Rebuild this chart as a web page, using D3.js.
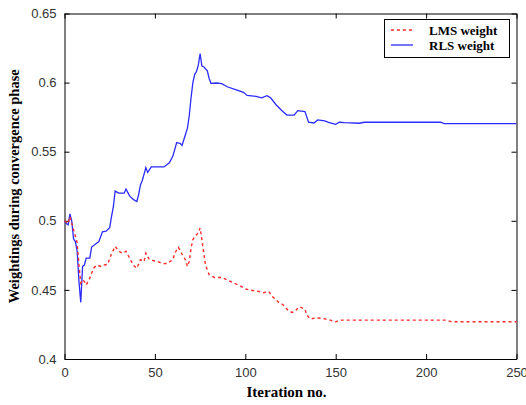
<!DOCTYPE html>
<html>
<head>
<meta charset="utf-8">
<script src="https://cdn.jsdelivr.net/npm/d3@7"></script>
<style>
  body { margin: 0; background: #fff; }
  svg { display: block; }
</style>
</head>
<body>
<svg id="chart" width="526" height="405"></svg>
<script>
// RLS weight (iteration, weight)
const rlsIter = [0, 1, 2, 3, 4, 5, 6, 7, 8, 9, 10, 11, 12, 14, 15, 17, 19, 21, 23, 25, 26, 27, 28, 30, 33, 34, 36, 38, 40,
  41, 42, 43, 45, 46, 48, 51, 55, 58, 60, 62, 64, 65, 67, 68, 69, 70, 71, 72, 73, 74, 75, 76, 77, 79, 80, 81, 84, 87, 90,
  95, 99, 101, 106, 109, 112, 114, 117, 120, 123, 127, 129, 133, 135, 138, 140, 144, 146, 150, 152, 155, 163, 166, 208, 210, 250];
const rlsVal = [0.500, 0.498, 0.497, 0.505, 0.500, 0.487, 0.485, 0.478, 0.456, 0.441, 0.467, 0.468, 0.473, 0.473, 0.481,
  0.483, 0.485, 0.492, 0.4925, 0.495, 0.503, 0.510, 0.5215, 0.520, 0.520, 0.523, 0.518, 0.5155, 0.514,
  0.519, 0.526, 0.529, 0.5385, 0.535, 0.539, 0.539, 0.539, 0.542, 0.547, 0.5565, 0.556, 0.5545, 0.5628, 0.567, 0.576,
  0.589, 0.600, 0.606, 0.608, 0.6125, 0.621, 0.612, 0.6115, 0.6085, 0.603, 0.5995, 0.5997, 0.5992, 0.597,
  0.5948, 0.593, 0.5907, 0.590, 0.589, 0.5905, 0.589, 0.584, 0.580, 0.5765, 0.5765, 0.5797, 0.579, 0.5713, 0.5708,
  0.573, 0.5723, 0.5713, 0.5698, 0.5713, 0.571, 0.5706, 0.5713, 0.5713, 0.5703, 0.5703];

// LMS weight
const lmsIter = [0, 2, 3, 5, 6, 7, 8, 9, 10, 11, 12, 14, 16, 18, 20, 22, 24, 25, 28, 30, 32, 34, 36, 38, 40, 42, 44, 45,
  47, 51, 55, 57, 60, 61, 63, 65, 67, 68, 69, 70, 71, 73, 74, 75, 76, 77, 78, 80, 83, 87, 91, 94, 98, 100, 103, 107,
  110, 113, 115, 118, 121, 124, 126, 128, 130, 133, 134, 136, 139, 143, 147, 150, 152, 211, 214, 250];
const lmsVal = [0.500, 0.498, 0.503, 0.4935, 0.489, 0.484, 0.468, 0.455, 0.4575, 0.456, 0.4536, 0.4585, 0.4657, 0.468,
  0.467, 0.468, 0.4685, 0.473, 0.4815, 0.478, 0.4766, 0.478, 0.473, 0.468, 0.4657, 0.4718, 0.4706, 0.4766,
  0.4718, 0.4706, 0.469, 0.4692, 0.472, 0.4766, 0.4808, 0.4758, 0.4715, 0.467, 0.4706, 0.4803, 0.4864, 0.490, 0.4912,
  0.4948, 0.4864, 0.4766, 0.468, 0.461, 0.459, 0.459, 0.4565, 0.4548, 0.4524, 0.4507, 0.4498, 0.449,
  0.448, 0.4488, 0.4452, 0.4415, 0.4391, 0.4347, 0.4337, 0.4354, 0.4378, 0.4361, 0.4318, 0.4289, 0.4298, 0.4293,
  0.4281, 0.4269, 0.4281, 0.4281, 0.427, 0.427];

const xTicks = [0, 50, 100, 150, 200, 250];
const yTicks = [0.4, 0.45, 0.5, 0.55, 0.6, 0.65];
const legendLabels = ["LMS weight", "RLS weight"];

const margin = { left: 64.5, right: 9.5, top: 13.5, bottom: 46 };
const W = 526, H = 405;
const svg = d3.select("#chart");

const x = d3.scaleLinear().domain([0, 250]).range([margin.left, W - margin.right]);
const y = d3.scaleLinear().domain([0.4, 0.65]).range([H - margin.bottom, margin.top]);

const tickFont = "'Liberation Sans', Arial, sans-serif";
const serif = "'Liberation Serif', 'Times New Roman', serif";

// axes: ticks inward on all four sides
function styleAxis(g) {
  g.select(".domain").attr("stroke", "#000");
  g.selectAll(".tick line").attr("stroke", "#000");
  g.selectAll(".tick text").attr("fill", "#333").style("font-family", tickFont).style("font-size", "13px");
}
svg.append("g").attr("transform", `translate(0,${y(0.4)})`)
  .call(d3.axisBottom(x).tickValues(xTicks).tickSizeInner(-5).tickSizeOuter(0).tickPadding(9).tickFormat(d3.format("d")))
  .call(styleAxis);
svg.append("g").attr("transform", `translate(0,${y(0.65)})`)
  .call(d3.axisTop(x).tickValues(xTicks).tickSizeInner(-5).tickSizeOuter(0).tickFormat(""))
  .call(styleAxis);
svg.append("g").attr("transform", `translate(${x(0)},0)`)
  .call(d3.axisLeft(y).tickValues(yTicks).tickSizeInner(-5).tickSizeOuter(0).tickPadding(8).tickFormat(d => d3.format("")(+d.toFixed(2))))
  .call(styleAxis);
svg.append("g").attr("transform", `translate(${x(250)},0)`)
  .call(d3.axisRight(y).tickValues(yTicks).tickSizeInner(-5).tickSizeOuter(0).tickFormat(""))
  .call(styleAxis);

const line = d3.line().x(d => x(d[0])).y(d => y(d[1]));

svg.append("path")
  .datum(d3.zip(rlsIter, rlsVal))
  .attr("d", line)
  .attr("fill", "none")
  .attr("stroke", "#2b2bff")
  .attr("stroke-width", 1.3);

svg.append("path")
  .datum(d3.zip(lmsIter, lmsVal))
  .attr("d", line)
  .attr("fill", "none")
  .attr("stroke", "#ff2b2b")
  .attr("stroke-width", 1.4)
  .attr("stroke-dasharray", "3,3");

// legend
const lg = svg.append("g");
lg.append("rect")
  .attr("x", 384.5).attr("y", 19.5).attr("width", 125).attr("height", 38)
  .attr("fill", "#fff").attr("stroke", "#000");
legendLabels.forEach((t, i) => {
  const ly = 30 + i * 15;
  lg.append("line")
    .attr("x1", 391).attr("x2", 413).attr("y1", ly).attr("y2", ly)
    .attr("stroke", i === 0 ? "#ff2b2b" : "#2b2bff")
    .attr("stroke-width", i === 0 ? 1.4 : 1.3)
    .attr("stroke-dasharray", i === 0 ? "3,3" : null);
  lg.append("text")
    .attr("x", 429).attr("y", ly + 4.5)
    .style("font-family", serif).style("font-weight", "bold").style("font-size", "13px")
    .text(t);
});

// axis titles
svg.append("text")
  .attr("x", (x(0) + x(250)) / 2 - 4).attr("y", 397)
  .attr("text-anchor", "middle")
  .style("font-family", serif).style("font-weight", "bold").style("font-size", "15px")
  .text("Iteration no.");

svg.append("text")
  .attr("transform", `translate(19,${(y(0.4) + y(0.65)) / 2}) rotate(-90)`)
  .attr("text-anchor", "middle")
  .style("font-family", serif).style("font-weight", "bold").style("font-size", "14.5px")
  .text("Weightings during convergence phase");
</script>
</body>
</html>
